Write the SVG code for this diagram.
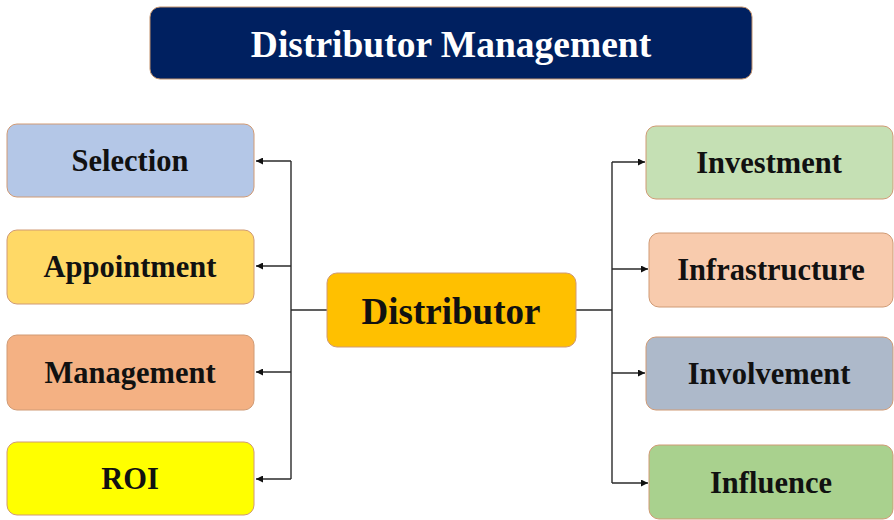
<svg xmlns="http://www.w3.org/2000/svg" width="894" height="520" viewBox="0 0 894 520">
  <style>
    .box { stroke: #d09a74; stroke-width: 1; }
    .lbl { font-family: "Liberation Serif", "Times New Roman", serif; font-weight: bold; fill: #111111; text-anchor: middle; dominant-baseline: central; }
    .node { font-size: 30.5px; }
    .conn { fill: none; stroke: #2a2a2a; stroke-width: 1.4; }
  </style>
  <defs>
    <marker id="arrow" viewBox="0 0 10 10" refX="10" refY="5" markerWidth="7" markerHeight="7" markerUnits="userSpaceOnUse" orient="auto">
      <path d="M0,0 L10,5 L0,10 z" fill="#111111"/>
    </marker>
  </defs>
  <rect width="894" height="520" fill="#ffffff"/>

  <g id="title">
    <rect x="150" y="7" width="602" height="72" rx="10" fill="#002060" stroke="#c0906a" stroke-width="1"/>
    <text class="lbl" x="451" y="44" font-size="37.5" style="fill:#ffffff">Distributor Management</text>
  </g>

  <g id="connectors">
    <!-- left trunk -->
    <path class="conn" d="M327,310 H291"/>
    <path class="conn" d="M291,161 V479"/>
    <path class="conn" d="M291,161 H256" marker-end="url(#arrow)"/>
    <path class="conn" d="M291,266 H256" marker-end="url(#arrow)"/>
    <path class="conn" d="M291,372 H256" marker-end="url(#arrow)"/>
    <path class="conn" d="M291,479 H256" marker-end="url(#arrow)"/>
    <!-- right trunk -->
    <path class="conn" d="M576,310 H612"/>
    <path class="conn" d="M612,162 V483"/>
    <path class="conn" d="M612,162 H645" marker-end="url(#arrow)"/>
    <path class="conn" d="M612,269 H648" marker-end="url(#arrow)"/>
    <path class="conn" d="M612,373 H645" marker-end="url(#arrow)"/>
    <path class="conn" d="M612,483 H648" marker-end="url(#arrow)"/>
  </g>

  <g id="distributor">
    <rect class="box" x="327" y="273" width="249" height="74" rx="10" fill="#ffc000"/>
    <text class="lbl" x="451" y="311" font-size="37">Distributor</text>
  </g>

  <g id="selection">
    <rect class="box" x="7" y="124" width="247" height="73" rx="10" fill="#b4c7e7"/>
    <text class="lbl node" x="130" y="161">Selection</text>
  </g>
  <g id="appointment">
    <rect class="box" x="7" y="230" width="247" height="74" rx="10" fill="#ffd966"/>
    <text class="lbl node" x="130" y="267">Appointment</text>
  </g>
  <g id="management">
    <rect class="box" x="7" y="335" width="247" height="75" rx="10" fill="#f4b183"/>
    <text class="lbl node" x="130" y="373">Management</text>
  </g>
  <g id="roi">
    <rect class="box" x="7" y="442" width="247" height="73" rx="10" fill="#ffff00"/>
    <text class="lbl node" x="130" y="479">ROI</text>
  </g>

  <g id="investment">
    <rect class="box" x="646" y="126" width="247" height="73" rx="10" fill="#c5e0b4"/>
    <text class="lbl node" x="769" y="163">Investment</text>
  </g>
  <g id="infrastructure">
    <rect class="box" x="649" y="233" width="244" height="74" rx="10" fill="#f8cbad"/>
    <text class="lbl node" x="771" y="270">Infrastructure</text>
  </g>
  <g id="involvement">
    <rect class="box" x="646" y="337" width="247" height="73" rx="10" fill="#adb9ca"/>
    <text class="lbl node" x="769" y="374">Involvement</text>
  </g>
  <g id="influence">
    <rect class="box" x="649" y="445" width="244" height="74" rx="10" fill="#a9d18e"/>
    <text class="lbl node" x="771" y="483">Influence</text>
  </g>
</svg>
